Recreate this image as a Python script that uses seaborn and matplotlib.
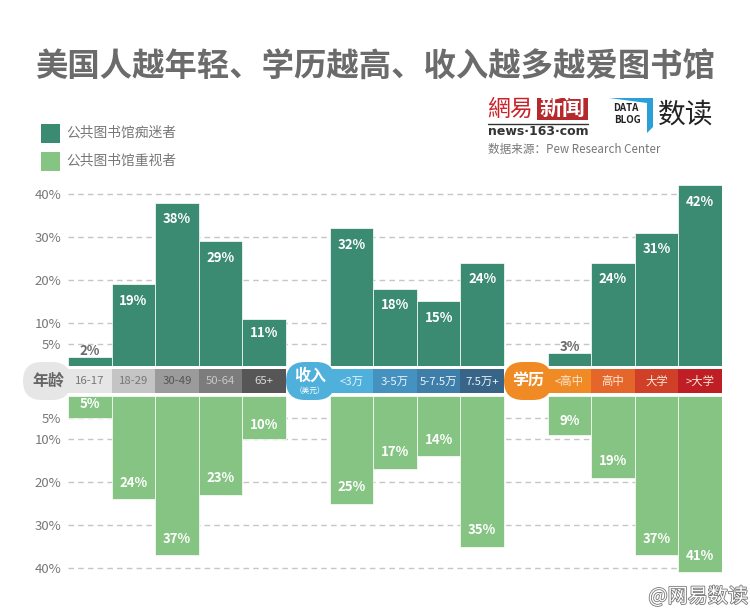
import matplotlib
matplotlib.use("Agg")
import matplotlib.pyplot as plt
import matplotlib.patheffects as pe
from matplotlib.patches import FancyBboxPatch, Polygon, Rectangle
import pandas as pd
import seaborn as sns

# values
age_labels = ["16-17", "18-29", "30-49", "50-64", "65+"]
age_fans = [2, 19, 38, 29, 11]
age_value = [5, 24, 37, 23, 10]
age_colors = ["#e6e6e6", "#c4c4c4", "#9b9b9b", "#7c7c7c", "#565656"]

income_labels = ["<3万", "3-5万", "5-7.5万", "7.5万+"]
income_fans = [32, 18, 15, 24]
income_value = [25, 17, 14, 35]
income_colors = ["#4fb0dc", "#4592c0", "#3f7ea8", "#386488"]

edu_labels = ["<高中", "高中", "大学", ">大学"]
edu_fans = [3, 24, 31, 42]
edu_value = [9, 19, 37, 41]
edu_colors = ["#ef8a25", "#e5662a", "#d03f28", "#bf1f24"]

DARK = "#3a8b71"
LIGHT = "#86c484"
GRAY = "#6a6a6a"
W, H = 750, 613

sns.set_theme(style="white")
plt.rcParams["font.family"] = ["Noto Sans CJK SC", "DejaVu Sans"]

labels = age_labels + income_labels + edu_labels
fans = age_fans + income_fans + edu_fans
value = age_value + income_value + edu_value
colors = age_colors + income_colors + edu_colors
# groups sit on one slot grid, with an empty slot between them
slots = list(range(5)) + list(range(6, 10)) + list(range(11, 15))
df = pd.DataFrame({"slot": slots, "label": labels, "fans": fans, "value": value})


def px_axes(fig, x0, x1, top, bottom, **kw):
    return fig.add_axes([x0 / W, 1 - bottom / H, (x1 - x0) / W, (bottom - top) / H], **kw)


def draw_bars(ax, col, color, invert):
    sns.barplot(data=df, x="slot", y=col, native_scale=True, width=1, color=color,
                saturation=1, edgecolor="white", linewidth=0.5, ax=ax, zorder=2)
    ax.set_xlim(-0.5, 14.5)
    ax.set_ylim((43, 0) if invert else (0, 43))
    ax.set_xlabel("")
    ax.set_ylabel("")
    ax.set_xticks([])
    ax.set_yticks([5, 10, 20, 30, 40])
    ax.set_yticklabels(["5%", "10%", "20%", "30%", "40%"])
    ax.tick_params(axis="y", length=0, pad=5, labelsize=9.5, labelcolor="#777777")
    ax.set_axisbelow(True)
    ax.yaxis.grid(True, color="#c6c6c6", lw=1, linestyle=(0, (4, 3)))
    ax.patch.set_alpha(0)
    sns.despine(ax=ax, left=True, bottom=True, top=True, right=True)
    for s, v in zip(slots, df[col]):
        if v <= 3:
            # too short to hold the label, goes above the bar
            ax.annotate(f"{v}%", (s, v), xytext=(0, 4.5), textcoords="offset points",
                        ha="center", va="center", color=GRAY, fontsize=9.5, fontweight="bold", zorder=4)
        else:
            off = 10 if v <= 11 else 12
            off = off if invert else -off
            ax.annotate(f"{v}%", (s, v), xytext=(0, off), textcoords="offset points",
                        ha="center", va="center", color="white", fontsize=9.5, fontweight="bold", zorder=4)


fig = plt.figure(figsize=(7.5, 6.13), dpi=100, facecolor="white")

ax_up = px_axes(fig, 68, 722, 181, 366)
draw_bars(ax_up, "fans", DARK, False)
ax_down = px_axes(fig, 68, 722, 396, 581)
draw_bars(ax_down, "value", LIGHT, True)

# colour band between the two halves
ax_band = px_axes(fig, 68, 722, 369, 393)
ax_band.bar(slots, [1] * len(slots), width=1, color=colors, linewidth=0)
ax_band.set_xlim(-0.5, 14.5)
ax_band.set_ylim(0, 1)
ax_band.axis("off")
band_text = ["#777777", "#777777", "#555555", "#c8c8c8", "#d8d8d8"] + ["#e8f4fa"] * 4 + ["#fbe9d6"] * 4
for s, lab, c in zip(slots, labels, band_text):
    ax_band.text(s, 0.48, lab, ha="center", va="center", fontsize=8.2, color=c)

# everything else is placed in image pixels
ov = fig.add_axes([0, 0, 1, 1], zorder=5)
ov.set_xlim(0, W)
ov.set_ylim(H, 0)
ov.axis("off")

for x0, x1, color in [(23, 71, "#e6e6e6"), (286, 335, "#4fb0dc"), (504, 552, "#ef8a25")]:
    ov.add_patch(FancyBboxPatch((x0 + 19, 381), x1 - x0 - 38, 0, boxstyle="round,pad=19,rounding_size=19",
                                fc=color, ec="none", mutation_aspect=1))
ov.text(48, 381, "年龄", ha="center", va="center", fontsize=11.5, fontweight="bold", color="#666666")
ov.text(310, 376, "收入", ha="center", va="center", fontsize=11.5, fontweight="bold", color="white")
ov.text(310, 391, "（美元）", ha="center", va="center", fontsize=5.5, color="white")
ov.text(528, 381, "学历", ha="center", va="center", fontsize=11.5, fontweight="bold", color="white")

ov.text(35, 67, "美国人越年轻、学历越高、收入越多越爱图书馆", ha="left", va="center",
        fontsize=23.3, fontweight="bold", color="#6b6b6b")

# legend
ov.add_patch(Rectangle((41, 124), 19, 19, fc=DARK, ec="none"))
ov.add_patch(Rectangle((41, 152), 19, 19, fc=LIGHT, ec="none"))
ov.text(66, 133, "公共图书馆痴迷者", ha="left", va="center", fontsize=9.9, color="#777777")
ov.text(66, 161, "公共图书馆重视者", ha="left", va="center", fontsize=9.9, color="#777777")

# logos and source
ov.text(510, 109, "網易", ha="center", va="center", fontsize=16.5, color="#c8222a",
        family=["Noto Sans CJK TC", "DejaVu Sans"])
ov.add_patch(Rectangle((537, 98), 51, 22, fc="#b5282c", ec="none"))
ov.text(562.5, 108.5, "新闻", ha="center", va="center", fontsize=16.5, color="white", fontweight="bold")
ov.plot([488, 588], [124, 124], color="#333333", lw=1)
ov.text(538, 131.5, "news·163·com", ha="center", va="center", fontsize=9, color="#333333", fontweight="bold",
        family="DejaVu Sans")
ov.text(488, 149, "数据来源：Pew Research Center", ha="left", va="center", fontsize=8.35, color="#777777")
ov.add_patch(Polygon([(609, 98), (653, 98), (653, 127), (647, 133), (647, 103)], fc="#2b9fd8", ec="none"))
ov.text(626, 108, "DATA", ha="center", va="center", fontsize=7, fontweight="bold", color="#222222")
ov.text(627, 120, "BLOG", ha="center", va="center", fontsize=7, fontweight="bold", color="#222222")
ov.text(686, 115, "数读", ha="center", va="center", fontsize=20, color="#222222")

# watermark
ov.text(748, 597, "@网易数读", ha="right", va="center", fontsize=14.5, color="white",
        path_effects=[pe.withStroke(linewidth=1.2, foreground="#777777")])

fig.savefig("out.png", dpi=100)
plt.close(fig)
